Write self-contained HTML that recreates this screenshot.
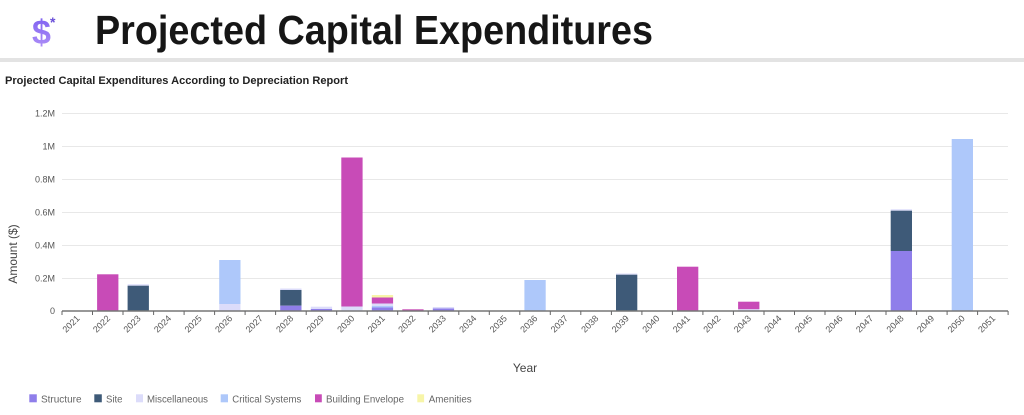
<!DOCTYPE html>
<html><head><meta charset="utf-8"><style>
html,body{margin:0;padding:0;background:#fff;}
svg{display:block;}
text{font-family:"Liberation Sans",Arial,sans-serif;}
</style></head><body>
<svg width="1024" height="415" viewBox="0 0 1024 415" xmlns="http://www.w3.org/2000/svg">
<defs>
<linearGradient id="g" x1="0" y1="0" x2="0" y2="1">
<stop offset="0" stop-color="#7a5cf0"/><stop offset="1" stop-color="#b596f8"/>
</linearGradient>
</defs>
<rect width="1024" height="415" fill="#fff"/>
<!-- header -->
<text x="32" y="44" font-size="34" font-weight="bold" fill="url(#g)">$</text>
<text x="50" y="27" font-size="14" font-weight="bold" fill="#6a4fd8">*</text>
<text x="95" y="44" font-size="41" font-weight="bold" fill="#161616" textLength="558" lengthAdjust="spacingAndGlyphs">Projected Capital Expenditures</text>
<rect x="0" y="58" width="1024" height="4" fill="#e3e3e3"/>
<text x="5" y="84" font-size="11" font-weight="bold" fill="#222" textLength="343" lengthAdjust="spacingAndGlyphs">Projected Capital Expenditures According to Depreciation Report</text>

<!-- gridlines -->
<g stroke="#e8e8e8" stroke-width="1">
<line x1="62" x2="1008" y1="113.5" y2="113.5"/>
<line x1="62" x2="1008" y1="146.5" y2="146.5"/>
<line x1="62" x2="1008" y1="179.5" y2="179.5"/>
<line x1="62" x2="1008" y1="212.5" y2="212.5"/>
<line x1="62" x2="1008" y1="245.5" y2="245.5"/>
<line x1="62" x2="1008" y1="278.5" y2="278.5"/>
</g>
<!-- y labels -->
<g font-size="9" fill="#555" text-anchor="end">
<text x="55" y="116.5">1.2M</text>
<text x="55" y="149.5">1M</text>
<text x="55" y="182.5">0.8M</text>
<text x="55" y="215.5">0.6M</text>
<text x="55" y="248.5">0.4M</text>
<text x="55" y="281.5">0.2M</text>
<text x="55" y="314">0</text>
</g>
<text transform="translate(17,254) rotate(-90)" font-size="12" fill="#444" text-anchor="middle">Amount ($)</text>

<!-- bars -->
<g>
<!-- 2022 -->
<rect x="97.1" y="274.3" width="21.3" height="36.7" fill="#c84bb7"/>
<!-- 2023 -->
<rect x="127.6" y="284.3" width="21.3" height="1.4" fill="#dcdcfa"/>
<rect x="127.6" y="285.7" width="21.3" height="25.3" fill="#3e5a78"/>
<!-- 2026 -->
<rect x="219.2" y="260" width="21.3" height="44" fill="#aec8fa"/>
<rect x="219.2" y="304" width="21.3" height="7" fill="#dcdcfa"/>
<!-- 2028 -->
<rect x="280.2" y="288.5" width="21.3" height="1.5" fill="#dcdcfa"/>
<rect x="280.2" y="290" width="21.3" height="15.7" fill="#3e5a78"/>
<rect x="280.2" y="305.7" width="21.3" height="5.3" fill="#8f7eea"/>
<!-- 2029 -->
<rect x="310.8" y="306.7" width="21.3" height="2.3" fill="#dcdcfa"/>
<rect x="310.8" y="309" width="21.3" height="2" fill="#8f7eea"/>
<!-- 2030 -->
<rect x="341.3" y="157.5" width="21.3" height="149" fill="#c84bb7"/>
<rect x="341.3" y="306.5" width="21.3" height="4.5" fill="#dcdcfa"/>
<!-- 2031 -->
<rect x="371.8" y="295" width="21.3" height="2.5" fill="#f7f5a8"/>
<rect x="371.8" y="297.5" width="21.3" height="6" fill="#c84bb7"/>
<rect x="371.8" y="303.5" width="21.3" height="2.5" fill="#dcdcfa"/>
<rect x="371.8" y="306" width="21.3" height="1.5" fill="#aec8fa"/>
<rect x="371.8" y="307.5" width="21.3" height="3.5" fill="#8f7eea"/>
<!-- 2032 -->
<rect x="402.3" y="309.3" width="21.3" height="1.7" fill="#c84bb7"/>
<!-- 2033 -->
<rect x="432.8" y="307" width="21.3" height="1.5" fill="#dcdcfa"/>
<rect x="432.8" y="308.5" width="21.3" height="2.5" fill="#8f7eea"/>
<!-- 2036 -->
<rect x="524.4" y="280" width="21.3" height="31" fill="#aec8fa"/>
<!-- 2039 -->
<rect x="616" y="273.5" width="21.3" height="1.2" fill="#dcdcfa"/>
<rect x="616" y="274.7" width="21.3" height="36.3" fill="#3e5a78"/>
<!-- 2041 -->
<rect x="677" y="266.7" width="21.3" height="44.3" fill="#c84bb7"/>
<!-- 2043 -->
<rect x="738.1" y="301.7" width="21.3" height="7.6" fill="#c84bb7"/>
<rect x="738.1" y="309.3" width="21.3" height="1.7" fill="#dcdcfa"/>
<!-- 2048 -->
<rect x="890.7" y="209.3" width="21.3" height="1.4" fill="#dcdcfa"/>
<rect x="890.7" y="210.7" width="21.3" height="40.3" fill="#3e5a78"/>
<rect x="890.7" y="251" width="21.3" height="60" fill="#8f7eea"/>
<!-- 2050 -->
<rect x="951.7" y="139" width="21.3" height="172" fill="#aec8fa"/>
</g>

<!-- axis -->
<line x1="62" x2="1008" y1="311" y2="311" stroke="#777" stroke-width="1.5"/>
<g stroke="#666" stroke-width="1">
<line x1="62.0" x2="62.0" y1="311" y2="315"/><line x1="92.5" x2="92.5" y1="311" y2="315"/><line x1="123.0" x2="123.0" y1="311" y2="315"/><line x1="153.6" x2="153.6" y1="311" y2="315"/><line x1="184.1" x2="184.1" y1="311" y2="315"/><line x1="214.6" x2="214.6" y1="311" y2="315"/><line x1="245.1" x2="245.1" y1="311" y2="315"/><line x1="275.6" x2="275.6" y1="311" y2="315"/><line x1="306.2" x2="306.2" y1="311" y2="315"/><line x1="336.7" x2="336.7" y1="311" y2="315"/><line x1="367.2" x2="367.2" y1="311" y2="315"/><line x1="397.7" x2="397.7" y1="311" y2="315"/><line x1="428.2" x2="428.2" y1="311" y2="315"/><line x1="458.8" x2="458.8" y1="311" y2="315"/><line x1="489.3" x2="489.3" y1="311" y2="315"/><line x1="519.8" x2="519.8" y1="311" y2="315"/><line x1="550.3" x2="550.3" y1="311" y2="315"/><line x1="580.8" x2="580.8" y1="311" y2="315"/><line x1="611.4" x2="611.4" y1="311" y2="315"/><line x1="641.9" x2="641.9" y1="311" y2="315"/><line x1="672.4" x2="672.4" y1="311" y2="315"/><line x1="702.9" x2="702.9" y1="311" y2="315"/><line x1="733.4" x2="733.4" y1="311" y2="315"/><line x1="764.0" x2="764.0" y1="311" y2="315"/><line x1="794.5" x2="794.5" y1="311" y2="315"/><line x1="825.0" x2="825.0" y1="311" y2="315"/><line x1="855.5" x2="855.5" y1="311" y2="315"/><line x1="886.0" x2="886.0" y1="311" y2="315"/><line x1="916.6" x2="916.6" y1="311" y2="315"/><line x1="947.1" x2="947.1" y1="311" y2="315"/><line x1="977.6" x2="977.6" y1="311" y2="315"/><line x1="1008.1" x2="1008.1" y1="311" y2="315"/>
</g>
<!-- x labels -->
<g font-size="9" fill="#555" text-anchor="end">
<text transform="translate(80.3,319) rotate(-45)">2021</text>
<text transform="translate(110.8,319) rotate(-45)">2022</text>
<text transform="translate(141.3,319) rotate(-45)">2023</text>
<text transform="translate(171.8,319) rotate(-45)">2024</text>
<text transform="translate(202.4,319) rotate(-45)">2025</text>
<text transform="translate(232.9,319) rotate(-45)">2026</text>
<text transform="translate(263.4,319) rotate(-45)">2027</text>
<text transform="translate(293.9,319) rotate(-45)">2028</text>
<text transform="translate(324.4,319) rotate(-45)">2029</text>
<text transform="translate(355.0,319) rotate(-45)">2030</text>
<text transform="translate(385.5,319) rotate(-45)">2031</text>
<text transform="translate(416.0,319) rotate(-45)">2032</text>
<text transform="translate(446.5,319) rotate(-45)">2033</text>
<text transform="translate(477.0,319) rotate(-45)">2034</text>
<text transform="translate(507.6,319) rotate(-45)">2035</text>
<text transform="translate(538.1,319) rotate(-45)">2036</text>
<text transform="translate(568.6,319) rotate(-45)">2037</text>
<text transform="translate(599.1,319) rotate(-45)">2038</text>
<text transform="translate(629.6,319) rotate(-45)">2039</text>
<text transform="translate(660.2,319) rotate(-45)">2040</text>
<text transform="translate(690.7,319) rotate(-45)">2041</text>
<text transform="translate(721.2,319) rotate(-45)">2042</text>
<text transform="translate(751.7,319) rotate(-45)">2043</text>
<text transform="translate(782.2,319) rotate(-45)">2044</text>
<text transform="translate(812.8,319) rotate(-45)">2045</text>
<text transform="translate(843.3,319) rotate(-45)">2046</text>
<text transform="translate(873.8,319) rotate(-45)">2047</text>
<text transform="translate(904.3,319) rotate(-45)">2048</text>
<text transform="translate(934.8,319) rotate(-45)">2049</text>
<text transform="translate(965.4,319) rotate(-45)">2050</text>
<text transform="translate(995.9,319) rotate(-45)">2051</text>
</g>
<text x="525" y="372" font-size="12" fill="#444" text-anchor="middle">Year</text>

<!-- legend -->
<g font-size="10" fill="#666">
<rect x="29.3" y="394.3" width="7.5" height="8" fill="#8f7eea"/>
<text x="41" y="402.3" textLength="40.5" lengthAdjust="spacingAndGlyphs">Structure</text>
<rect x="94.3" y="394.3" width="7.5" height="8" fill="#3e5a78"/>
<text x="106" y="402.3" textLength="16.5" lengthAdjust="spacingAndGlyphs">Site</text>
<rect x="136" y="394.3" width="7" height="8" fill="#dcdcfa"/>
<text x="147" y="402.3" textLength="61" lengthAdjust="spacingAndGlyphs">Miscellaneous</text>
<rect x="220.7" y="394.3" width="7.3" height="8" fill="#aec8fa"/>
<text x="232.3" y="402.3" textLength="69" lengthAdjust="spacingAndGlyphs">Critical Systems</text>
<rect x="315" y="394.3" width="6.8" height="8" fill="#c84bb7"/>
<text x="326" y="402.3" textLength="78" lengthAdjust="spacingAndGlyphs">Building Envelope</text>
<rect x="417.3" y="394.3" width="6.8" height="8" fill="#f7f5a8"/>
<text x="428.7" y="402.3" textLength="43" lengthAdjust="spacingAndGlyphs">Amenities</text>
</g>
</svg>
</body></html>
